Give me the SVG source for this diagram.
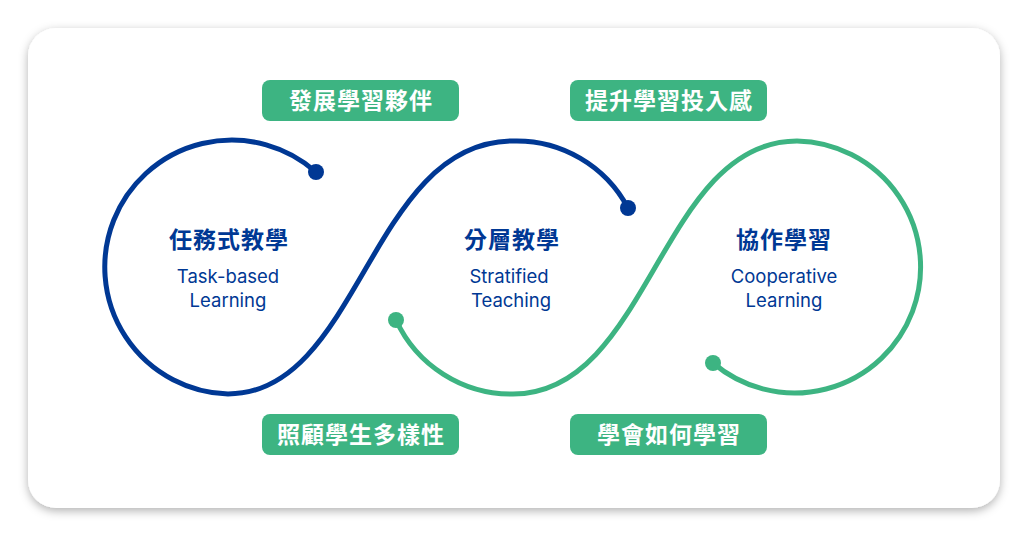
<svg xmlns="http://www.w3.org/2000/svg" width="1034" height="542" viewBox="0 0 1034 542">
<defs>
<filter id="sh" x="-5%" y="-5%" width="110%" height="115%"><feDropShadow dx="0" dy="3" stdDeviation="5" flood-color="#000" flood-opacity="0.3"/></filter>
<style>
.b{fill:none;stroke:#003894;stroke-width:5;stroke-linecap:round}
.g{fill:none;stroke:#3db482;stroke-width:5;stroke-linecap:round}
.tag{fill:#3db482}
.tt{font-family:"Noto Sans CJK TC","Noto Sans CJK SC",sans-serif;font-size:23px;font-weight:bold;fill:#fff;text-anchor:middle;letter-spacing:1px}
.h{font-family:"Noto Sans CJK TC","Noto Sans CJK SC",sans-serif;font-size:23px;font-weight:bold;fill:#003894;text-anchor:middle;letter-spacing:1px}
.e{font-family:Inter,"Noto Sans",sans-serif;font-size:18.5px;fill:#003894;text-anchor:middle}
</style>
</defs>
<rect width="1034" height="542" fill="#fff"/>
<rect x="28" y="28" width="972" height="480" rx="28" fill="#fff" filter="url(#sh)"/>
<g id="connectors">
<path class="b" d="M316,172 A127,127 0 1 0 228,394 C360,394 370,141 513,141 A126,126 0 0 1 628,208"/>
<circle cx="316" cy="172" r="8" fill="#003894"/>
<circle cx="628" cy="208" r="8" fill="#003894"/>
<path class="g" d="M396,320 A127,127 0 0 0 513,394 C650,394 660,141 797,141 A126,126 0 1 1 713,363"/>
<circle cx="396" cy="320" r="8" fill="#3db482"/>
<circle cx="713" cy="363" r="8" fill="#3db482"/>
</g>
<g id="tag1"><rect class="tag" x="262" y="80" width="197" height="41" rx="8"/><text class="tt" x="361" y="109">發展學習夥伴</text></g>
<g id="tag2"><rect class="tag" x="570" y="80" width="197" height="41" rx="8"/><text class="tt" x="669" y="109">提升學習投入感</text></g>
<g id="tag3"><rect class="tag" x="262" y="414" width="197" height="41" rx="8"/><text class="tt" x="361" y="443">照顧學生多樣性</text></g>
<g id="tag4"><rect class="tag" x="570" y="414" width="197" height="41" rx="8"/><text class="tt" x="669" y="443">學會如何學習</text></g>
<g id="node1"><text class="h" x="229" y="248">任務式教學</text><text class="e" x="228" y="283">Task-based</text><text class="e" x="228" y="307">Learning</text></g>
<g id="node2"><text class="h" x="512" y="248">分層教學</text><text class="e" x="509" y="283">Stratified</text><text class="e" x="511" y="307">Teaching</text></g>
<g id="node3"><text class="h" x="784" y="248">協作學習</text><text class="e" x="784" y="283">Cooperative</text><text class="e" x="784" y="307">Learning</text></g>
</svg>
